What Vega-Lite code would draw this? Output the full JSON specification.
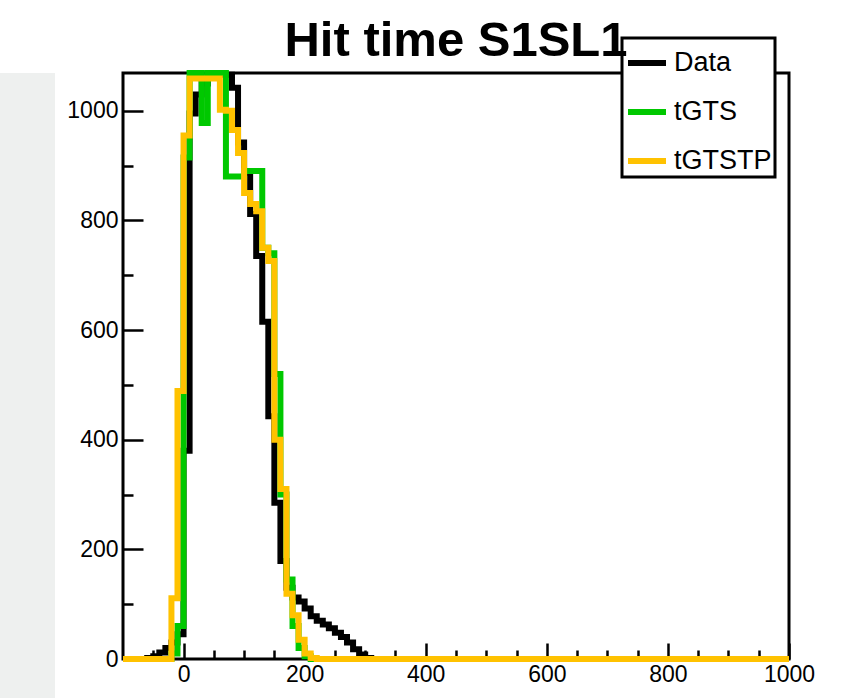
{
  "$schema": "https://vega.github.io/schema/vega-lite/v6.json",
  "padding": {"left": 0, "top": 15, "right": 0, "bottom": 0},
  "autosize": {"type": "pad"},
  "background": "#ffffff",
  "spacing": 10,
  "config": {"view": {"stroke": "#000000", "strokeWidth": 3}, "font": "Liberation Sans", "legend": {"strokeWidth": 3}},
  "resolve": {"scale": {"color": "independent"}, "legend": {"color": "independent"}},
  "hconcat": [
    {"width": 55, "height": 626, "view": {"fill": "#eef0ef", "stroke": null}, "data": {"values": []}, "mark": "point"},
    {
  "width": 666,
  "height": 586,
  "title": {"text": "Hit time S1SL1", "font": "Liberation Sans", "fontSize": 49, "fontWeight": "bold", "color": "#000000", "anchor": "middle", "frame": "group", "baseline": "alphabetic", "offset": -68},
  "data": {"values": [
    {"t":-100,"Data":0,"tGTS":0,"tGTSTP":0},
    {"t":-90,"Data":0,"tGTS":0,"tGTSTP":0},
    {"t":-80,"Data":0,"tGTS":0,"tGTSTP":0},
    {"t":-70,"Data":0,"tGTS":0,"tGTSTP":0},
    {"t":-60,"Data":2,"tGTS":0,"tGTSTP":0},
    {"t":-50,"Data":5,"tGTS":0,"tGTSTP":0},
    {"t":-40,"Data":12,"tGTS":0,"tGTSTP":0},
    {"t":-30,"Data":20,"tGTS":0,"tGTSTP":0},
    {"t":-20,"Data":30,"tGTS":10,"tGTSTP":111},
    {"t":-10,"Data":45,"tGTS":60,"tGTSTP":489},
    {"t":0,"Data":380,"tGTS":915,"tGTSTP":955},
    {"t":10,"Data":995,"tGTS":1069,"tGTSTP":1059},
    {"t":20,"Data":1030,"tGTS":1069,"tGTSTP":1059},
    {"t":30,"Data":1050,"tGTS":978,"tGTSTP":1059},
    {"t":40,"Data":1066,"tGTS":1069,"tGTSTP":1059},
    {"t":50,"Data":1066,"tGTS":1069,"tGTSTP":1059},
    {"t":60,"Data":1066,"tGTS":1069,"tGTSTP":1002},
    {"t":70,"Data":1066,"tGTS":880,"tGTSTP":1000},
    {"t":80,"Data":1042,"tGTS":880,"tGTSTP":965},
    {"t":90,"Data":942,"tGTS":880,"tGTSTP":923},
    {"t":100,"Data":887,"tGTS":890,"tGTSTP":850},
    {"t":110,"Data":812,"tGTS":890,"tGTSTP":830},
    {"t":120,"Data":735,"tGTS":890,"tGTSTP":817},
    {"t":130,"Data":615,"tGTS":750,"tGTSTP":750},
    {"t":140,"Data":443,"tGTS":740,"tGTSTP":726},
    {"t":150,"Data":285,"tGTS":520,"tGTSTP":400},
    {"t":160,"Data":179,"tGTS":300,"tGTSTP":310},
    {"t":170,"Data":130,"tGTS":145,"tGTSTP":119},
    {"t":180,"Data":112,"tGTS":60,"tGTSTP":80},
    {"t":190,"Data":105,"tGTS":20,"tGTSTP":35},
    {"t":200,"Data":92,"tGTS":5,"tGTSTP":10},
    {"t":210,"Data":78,"tGTS":0,"tGTSTP":2},
    {"t":220,"Data":70,"tGTS":0,"tGTSTP":0},
    {"t":230,"Data":63,"tGTS":0,"tGTSTP":0},
    {"t":240,"Data":56,"tGTS":0,"tGTSTP":0},
    {"t":250,"Data":48,"tGTS":0,"tGTSTP":0},
    {"t":260,"Data":40,"tGTS":0,"tGTSTP":0},
    {"t":270,"Data":30,"tGTS":0,"tGTSTP":0},
    {"t":280,"Data":18,"tGTS":0,"tGTSTP":0},
    {"t":290,"Data":8,"tGTS":0,"tGTSTP":0},
    {"t":300,"Data":2,"tGTS":0,"tGTSTP":0},
    {"t":310,"Data":0,"tGTS":0,"tGTSTP":0},
    {"t":320,"Data":0,"tGTS":0,"tGTSTP":0},
    {"t":330,"Data":0,"tGTS":0,"tGTSTP":0},
    {"t":340,"Data":0,"tGTS":0,"tGTSTP":0},
    {"t":350,"Data":0,"tGTS":0,"tGTSTP":0},
    {"t":360,"Data":0,"tGTS":0,"tGTSTP":0},
    {"t":370,"Data":0,"tGTS":0,"tGTSTP":0},
    {"t":380,"Data":0,"tGTS":0,"tGTSTP":0},
    {"t":390,"Data":0,"tGTS":0,"tGTSTP":0},
    {"t":400,"Data":0,"tGTS":0,"tGTSTP":0},
    {"t":410,"Data":0,"tGTS":0,"tGTSTP":0},
    {"t":420,"Data":0,"tGTS":0,"tGTSTP":0},
    {"t":430,"Data":0,"tGTS":0,"tGTSTP":0},
    {"t":440,"Data":0,"tGTS":0,"tGTSTP":0},
    {"t":450,"Data":0,"tGTS":0,"tGTSTP":0},
    {"t":460,"Data":0,"tGTS":0,"tGTSTP":0},
    {"t":470,"Data":0,"tGTS":0,"tGTSTP":0},
    {"t":480,"Data":0,"tGTS":0,"tGTSTP":0},
    {"t":490,"Data":0,"tGTS":0,"tGTSTP":0},
    {"t":500,"Data":0,"tGTS":0,"tGTSTP":0},
    {"t":510,"Data":0,"tGTS":0,"tGTSTP":0},
    {"t":520,"Data":0,"tGTS":0,"tGTSTP":0},
    {"t":530,"Data":0,"tGTS":0,"tGTSTP":0},
    {"t":540,"Data":0,"tGTS":0,"tGTSTP":0},
    {"t":550,"Data":0,"tGTS":0,"tGTSTP":0},
    {"t":560,"Data":0,"tGTS":0,"tGTSTP":0},
    {"t":570,"Data":0,"tGTS":0,"tGTSTP":0},
    {"t":580,"Data":0,"tGTS":0,"tGTSTP":0},
    {"t":590,"Data":0,"tGTS":0,"tGTSTP":0},
    {"t":600,"Data":0,"tGTS":0,"tGTSTP":0},
    {"t":610,"Data":0,"tGTS":0,"tGTSTP":0},
    {"t":620,"Data":0,"tGTS":0,"tGTSTP":0},
    {"t":630,"Data":0,"tGTS":0,"tGTSTP":0},
    {"t":640,"Data":0,"tGTS":0,"tGTSTP":0},
    {"t":650,"Data":0,"tGTS":0,"tGTSTP":0},
    {"t":660,"Data":0,"tGTS":0,"tGTSTP":0},
    {"t":670,"Data":0,"tGTS":0,"tGTSTP":0},
    {"t":680,"Data":0,"tGTS":0,"tGTSTP":0},
    {"t":690,"Data":0,"tGTS":0,"tGTSTP":0},
    {"t":700,"Data":0,"tGTS":0,"tGTSTP":0},
    {"t":710,"Data":0,"tGTS":0,"tGTSTP":0},
    {"t":720,"Data":0,"tGTS":0,"tGTSTP":0},
    {"t":730,"Data":0,"tGTS":0,"tGTSTP":0},
    {"t":740,"Data":0,"tGTS":0,"tGTSTP":0},
    {"t":750,"Data":0,"tGTS":0,"tGTSTP":0},
    {"t":760,"Data":0,"tGTS":0,"tGTSTP":0},
    {"t":770,"Data":0,"tGTS":0,"tGTSTP":0},
    {"t":780,"Data":0,"tGTS":0,"tGTSTP":0},
    {"t":790,"Data":0,"tGTS":0,"tGTSTP":0},
    {"t":800,"Data":0,"tGTS":0,"tGTSTP":0},
    {"t":810,"Data":0,"tGTS":0,"tGTSTP":0},
    {"t":820,"Data":0,"tGTS":0,"tGTSTP":0},
    {"t":830,"Data":0,"tGTS":0,"tGTSTP":0},
    {"t":840,"Data":0,"tGTS":0,"tGTSTP":0},
    {"t":850,"Data":0,"tGTS":0,"tGTSTP":0},
    {"t":860,"Data":0,"tGTS":0,"tGTSTP":0},
    {"t":870,"Data":0,"tGTS":0,"tGTSTP":0},
    {"t":880,"Data":0,"tGTS":0,"tGTSTP":0},
    {"t":890,"Data":0,"tGTS":0,"tGTSTP":0},
    {"t":900,"Data":0,"tGTS":0,"tGTSTP":0},
    {"t":910,"Data":0,"tGTS":0,"tGTSTP":0},
    {"t":920,"Data":0,"tGTS":0,"tGTSTP":0},
    {"t":930,"Data":0,"tGTS":0,"tGTSTP":0},
    {"t":940,"Data":0,"tGTS":0,"tGTSTP":0},
    {"t":950,"Data":0,"tGTS":0,"tGTSTP":0},
    {"t":960,"Data":0,"tGTS":0,"tGTSTP":0},
    {"t":970,"Data":0,"tGTS":0,"tGTSTP":0},
    {"t":980,"Data":0,"tGTS":0,"tGTSTP":0},
    {"t":990,"Data":0,"tGTS":0,"tGTSTP":0},
    {"t":1000,"Data":0,"tGTS":0,"tGTSTP":0}
  ]},
  "encoding": {
    "x": {"field": "t", "type": "quantitative", "scale": {"domain": [-100, 1000], "nice": false, "zero": false},
      "axis": {"title": null, "values": [-50,0,50,100,150,200,250,300,350,400,450,500,550,600,650,700,750,800,850,900,950,1000], "format": "d", "domain": false, "grid": false, "tickColor": "#000000", "tickWidth": 2.5, "tickSize": {"condition": {"test": "datum.value % 200 === 0", "value": -16}, "value": -9}, "labelExpr": "datum.value % 200 === 0 ? datum.label : ''", "labelFont": "Liberation Sans", "labelFontSize": 23, "labelColor": "#000000", "labelPadding": 20, "labelFlush": false, "labelOverlap": false}}
  },
  "layer": [
    {"mark": {"type": "line", "interpolate": "step-after", "strokeWidth": 6},
     "encoding": {
       "y": {"field": "Data", "type": "quantitative", "scale": {"domain": [0, 1069], "nice": false, "zero": true},
         "axis": {"title": null, "values": [0,50,100,150,200,250,300,350,400,450,500,550,600,650,700,750,800,850,900,950,1000,1050], "format": "d", "domain": false, "grid": false, "tickColor": "#000000", "tickWidth": 2.5, "tickSize": {"condition": {"test": "datum.value % 200 === 0", "value": -20}, "value": -10}, "labelExpr": "datum.value % 200 === 0 ? datum.label : ''", "labelFont": "Liberation Sans", "labelFontSize": 23, "labelColor": "#000000", "labelPadding": 25, "labelFlush": false, "labelOverlap": false}},
       "color": {"datum": "Data", "type": "nominal", "scale": {"domain": ["Data", "tGTS", "tGTSTP"], "range": ["#000000", "#00c800", "#ffc200"]},
         "legend": {"title": null, "orient": "none", "legendX": 499, "legendY": -35, "symbolType": "stroke", "symbolSize": 1444, "symbolStrokeWidth": 6, "labelFont": "Liberation Sans", "labelFontSize": 27, "labelColor": "#000000", "fillColor": "#ffffff", "strokeColor": "#000000", "padding": 3, "rowPadding": 14, "labelOffset": 5}}
     }},
    {"mark": {"type": "line", "interpolate": "step-after", "strokeWidth": 6},
     "encoding": {
       "y": {"field": "tGTS", "type": "quantitative"},
       "color": {"datum": "tGTS", "type": "nominal"}
     }},
    {"mark": {"type": "line", "interpolate": "step-after", "strokeWidth": 6},
     "encoding": {
       "y": {"field": "tGTSTP", "type": "quantitative"},
       "color": {"datum": "tGTSTP", "type": "nominal"}
     }}
  ]
    }
  ]
}
